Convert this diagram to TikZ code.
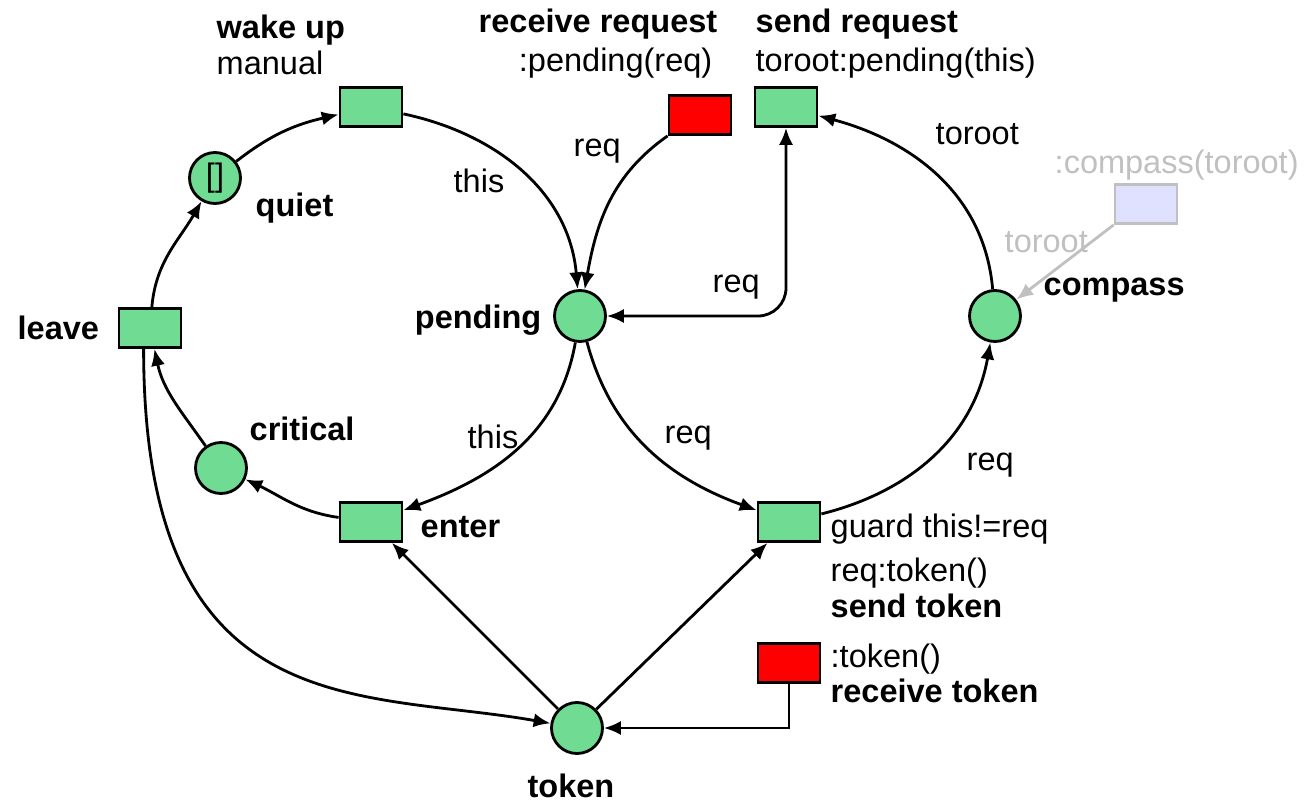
\documentclass[tikz,border=0pt]{standalone}
\usepackage{fontspec}
\setmainfont{Liberation Sans}
\usetikzlibrary{arrows,arrows.meta}
\usepackage{xcolor}
\definecolor{placegreen}{RGB}{112,219,147}
\definecolor{lightgrey}{RGB}{192,192,192}
\definecolor{lavender}{RGB}{224,224,255}

\begin{document}
\begin{tikzpicture}[x=.1mm, y=.1mm, font=\fontsize{9.25}{11}\selectfont, >={Latex[length=4.8pt, width=4pt]},
  place/.style={circle, draw, line width=.8pt, fill=placegreen, minimum size=5.1mm, inner sep=0},
  trans/.style={rectangle, draw, line width=.8pt, fill=placegreen, minimum width=6.2mm, minimum height=3.9mm, inner sep=0},
  arc/.style={line width=.8pt, ->},
  lbl/.style={inner sep=0, anchor=base west}]
\useasboundingbox (0,0) rectangle (1315,-802);
\node[place] (quiet) at (215,-178) {[]};
\foreach \n/\x/\y in {pending/580/316, compass/995/316, critical/221/468, token/577/728}
  \node[place] (\n) at (\x,-\y) {};
\foreach \n/\x/\y in {wakeup/371/107, leave/150/328, sendreq/786/107, enter/371/522, sendtok/789/522}
  \node[trans] (\n) at (\x,-\y) {};
\foreach \n/\x/\y in {recvreq/700/115, recvtok/789/663}
  \node[trans, fill=red] (\n) at (\x,-\y) {};
\node[trans, draw=lightgrey, fill=lavender] (compasstr) at (1146,-204) {};

\draw[arc] (leave) to[out=85, in=240] (quiet);
\draw[arc] (quiet) to[out=38, in=193] (wakeup);
\draw[arc] (wakeup) to[out=-12, in=95] (pending);
\draw[arc] (recvreq.south west) to[out=215, in=80] (pending);
\draw[arc, <->, rounded corners=2.8mm] (pending) -| (sendreq);
\draw[arc] (compass) to[out=95, in=-15] (sendreq);
\draw[arc, lightgrey] (compasstr.south west) -- (compass);
\draw[arc] (pending) to[out=-100, in=20] (enter);
\draw[arc] (enter) to[out=172, in=-25] (critical);
\draw[arc] (critical) to[out=125, in=-78] (leave);
\draw[arc] (pending) to[out=-75, in=160] (sendtok);
\draw[arc] (sendtok) to[out=14, in=-100] (compass);
\draw[arc] (token) -- (enter);
\draw[arc] (token) -- (sendtok);
\draw[arc] (leave.253) to[out=-90, in=170, out looseness=1.75, in looseness=.9] (token);
\draw[arc] (recvtok) |- (token);

\node[lbl] (wakeupname) at (216,-39) {\bfseries wake up};
\node[lbl] (wakeupmode) at (216,-75) {manual};
\node[lbl, anchor=base east] (recvreqname) at (718,-33) {\bfseries receive request};
\node[lbl, anchor=base east] (recvreqmsg) at (713,-72) {:pending(req)};
\node[lbl] (sendreqname) at (755,-33) {\bfseries send request};
\node[lbl] (sendreqmsg) at (755,-72) {toroot:pending(this)};
\node[lbl] (quietname) at (255,-217) {\bfseries quiet};
\node[lbl] (leavename) at (17,-340) {\bfseries leave};
\node[lbl, anchor=base east] (pendingname) at (542,-328) {\bfseries pending};
\node[lbl] (compassname) at (1043,-295) {\bfseries compass};
\node[lbl, lightgrey] (compasstrmsg) at (1054,-173) {:compass(toroot)};
\node[lbl, lightgrey] (compasstrarg) at (1004,-252) {toroot};
\node[lbl] (criticalname) at (249,-440) {\bfseries critical};
\node[lbl] (entername) at (420,-537) {\bfseries enter};
\node[lbl, anchor=base] (tokenname) at (571,-797) {\bfseries token};
\node[lbl] (sendtokguard) at (830,-537) {guard this!=req};
\node[lbl] (sendtokmsg) at (830,-581) {req:token()};
\node[lbl] (sendtokname) at (830,-617) {\bfseries send token};
\node[lbl] (recvtokmsg) at (830,-667) {:token()};
\node[lbl] (recvtokname) at (830,-702) {\bfseries receive token};
\node[lbl] (thisup) at (453,-193) {this};
\node[lbl] (thisdown) at (467,-448) {this};
\node[lbl] (reqin) at (573,-157) {req};
\node[lbl] (reqback) at (712,-293) {req};
\node[lbl] (reqout) at (664,-443) {req};
\node[lbl] (reqfwd) at (966,-470) {req};
\node[lbl] (toroot) at (935,-145) {toroot};
\end{tikzpicture}
\end{document}
